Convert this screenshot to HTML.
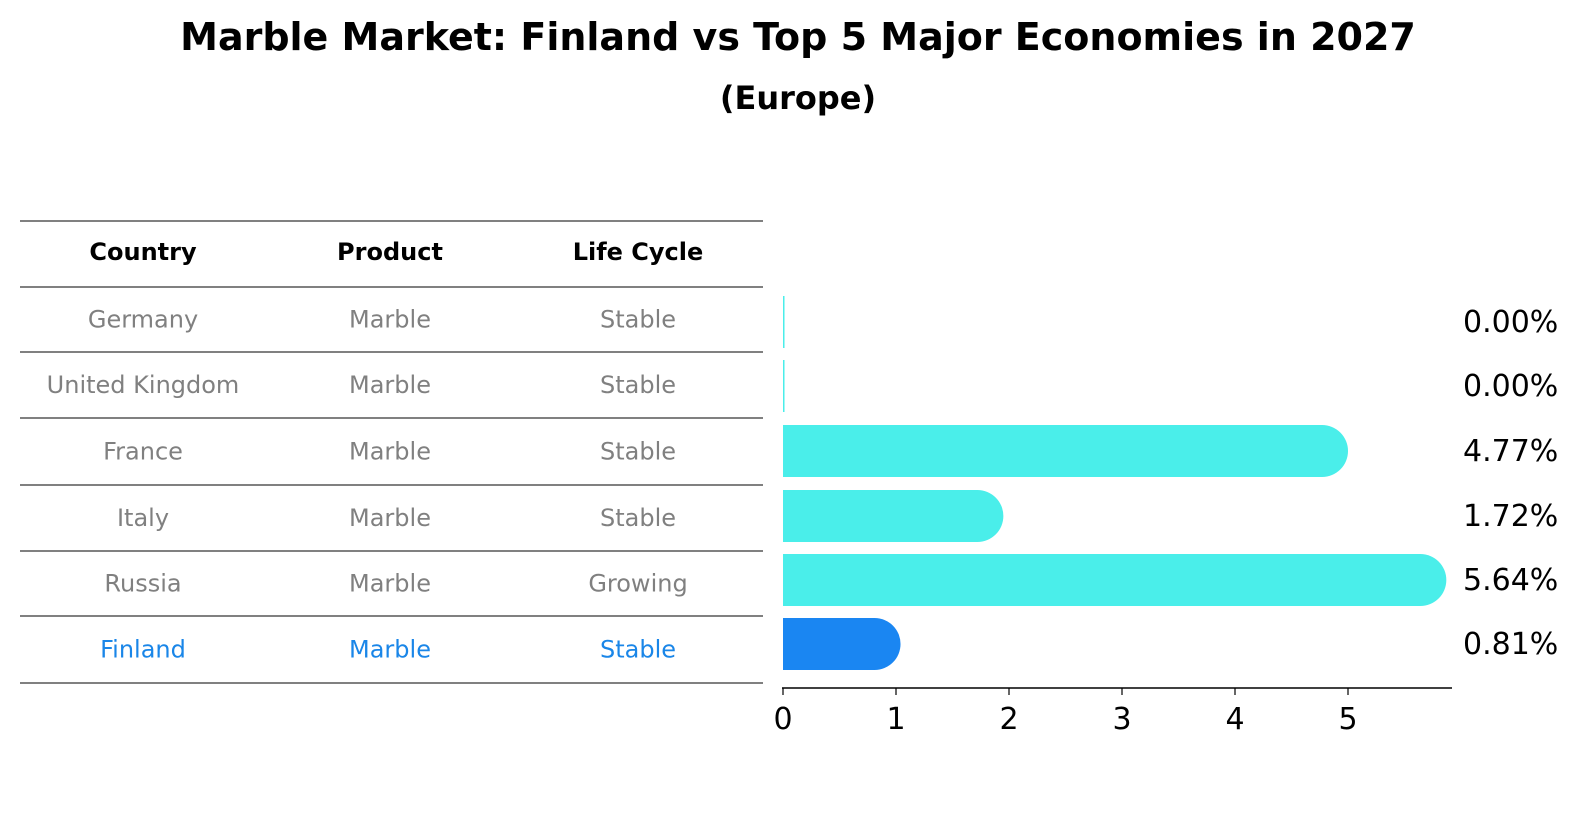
<!DOCTYPE html>
<html><head><meta charset="utf-8"><style>
body{margin:0;background:#fff;font-family:"DejaVu Sans","Liberation Sans",sans-serif;}
</style></head><body>
<svg width="1586" height="823" xmlns="http://www.w3.org/2000/svg" font-family="DejaVu Sans, Liberation Sans, sans-serif">
<text x="798" y="50" text-anchor="middle" font-size="38" font-weight="bold">Marble Market: Finland vs Top 5 Major Economies in 2027</text>
<text x="798" y="109" text-anchor="middle" font-size="32" font-weight="bold">(Europe)</text>
<g id="table"></g>
<g id="bars"></g>
</svg>
<script>
const countries=["Germany","United Kingdom","France","Italy","Russia","Finland"];
const products=["Marble","Marble","Marble","Marble","Marble","Marble"];
const lifeCycles=["Stable","Stable","Stable","Stable","Growing","Stable"];
const values=[0.00,0.00,4.77,1.72,5.64,0.81];
const ticks=[0,1,2,3,4,5];
const NS="http://www.w3.org/2000/svg";
function mk(tag,attrs,parent,text){const e=document.createElementNS(NS,tag);for(const k in attrs)e.setAttribute(k,attrs[k]);if(text!==undefined)e.textContent=text;parent.appendChild(e);return e;}
const tbl=document.getElementById('table');
const lines=[221,287,352,418,485,551,616,683];
lines.forEach(y=>{const l=mk('line',{x1:20,x2:763,y1:y,y2:y,stroke:'#000','stroke-width':1},tbl);

});
const colX=[143,390,638];
["Country","Product","Life Cycle"].forEach((h,i)=>{const t=mk('text',{x:colX[i],y:260,'text-anchor':'middle','font-size':24,'font-weight':'bold'},tbl,h);

});
countries.forEach((c,r)=>{const y=(lines[r+1]+lines[r+2])/2+8;const col=r===countries.length-1?'#1a86e8':'#808080';
[c,products[r],lifeCycles[r]].forEach((v,i)=>{const t=mk('text',{x:colX[i],y:y,'text-anchor':'middle','font-size':24,fill:col},tbl,v);

});});
const g=document.getElementById('bars');
const x0=783,pxPer=113;
const xs=v=>x0+v*pxPer;
const rowY=[322,386,451,516,580,644];const h=52,r=26;
values.forEach((v,i)=>{const col=i===values.length-1?'#1a86f2':'#4aeeea';const xe=xs(v);const yt=rowY[i]-h/2;
let d;
if(v<=0){d=`M${x0},${yt}h1.5v${h}h-1.5z`;}
else d=`M${x0},${yt}H${xe}A${r},${r} 0 0 1 ${xe},${yt+h}H${x0}Z`;
const p=mk('path',{d:d,fill:col},g);


const t=mk('text',{x:1463,y:rowY[i]+10,'font-size':30},g,values[i].toFixed(2)+'%');

});
const ax=mk('line',{x1:782,x2:1452,y1:688,y2:688,stroke:'#000','stroke-width':1.5},g);


ticks.forEach(tv=>{const x=xs(tv);const l=mk('line',{x1:x,x2:x,y1:688,y2:695,stroke:'#000','stroke-width':1.2},g);


const t=mk('text',{x:x,y:729,'text-anchor':'middle','font-size':30},g,String(tv));

});
</script>
</body></html>
